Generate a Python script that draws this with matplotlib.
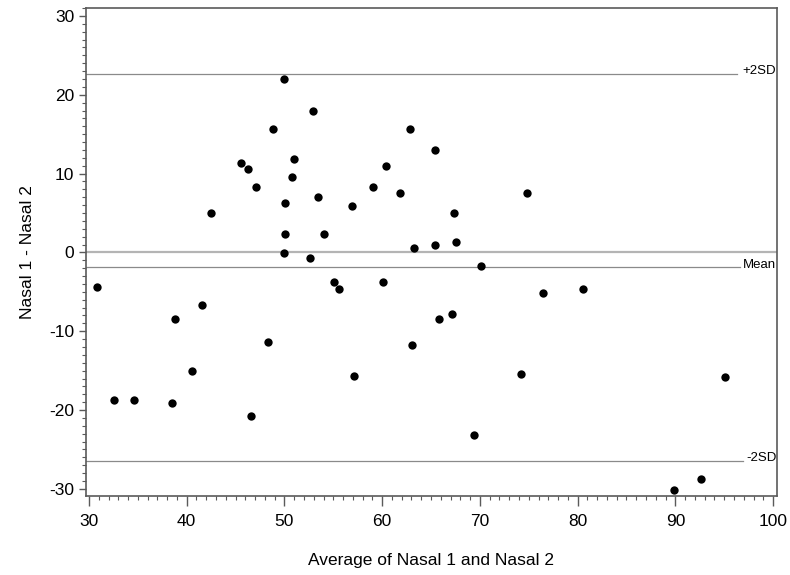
import matplotlib.pyplot as plt
from matplotlib.ticker import MultipleLocator

plt.rcParams['font.family'] = ['Liberation Sans', 'DejaVu Sans']
plt.rcParams['axes.unicode_minus'] = False

# Bland-Altman data
avg = [30.8, 32.6, 34.6, 38.5, 38.8, 40.5, 41.6, 42.5, 45.6, 46.3,
       46.6, 47.1, 48.3, 48.8, 50.0, 50.0, 50.1, 50.1, 50.8, 51.0,
       52.6, 52.95, 53.4, 54.1, 55.1, 55.6, 56.9, 57.1, 59.1, 60.1,
       60.4, 61.8, 62.8, 63.1, 63.3, 65.4, 65.4, 65.8, 67.1, 67.4,
       67.6, 69.4, 70.1, 74.2, 74.8, 76.5, 80.6, 89.9, 92.6, 95.1]
diff = [-4.4, -18.7, -18.7, -19.1, -8.4, -15.0, -6.7, 5.0, 11.3, 10.6,
        -20.8, 8.3, -11.4, 15.6, 22.0, -0.1, 6.3, 2.3, 9.6, 11.9,
        -0.7, 17.95, 7.0, 2.3, -3.7, -4.7, 5.9, -15.7, 8.3, -3.7,
        10.9, 7.6, 15.6, -11.7, 0.6, 13.0, 0.9, -8.4, -7.8, 5.0,
        1.3, -23.1, -1.7, -15.4, 7.6, -5.1, -4.7, -30.1, -28.8, -15.8]

ref_values = [22.6, -1.9, -26.4]
ref_labels = ['+2SD', 'Mean', '-2SD']
ref_ends = [0.942, 0.946, 0.951]

fig = plt.figure(figsize=(7.9, 5.75), dpi=100)
ax = fig.add_axes([0.1089, 0.1374, 0.8746, 0.8486])

ax.set_xlim(29.7, 100.4)
ax.set_ylim(-30.9, 31.0)

# zero line
ax.axhline(0, color='#b4b4b4', lw=1.6, zorder=1)

# mean and limits
for v, lab, end in zip(ref_values, ref_labels, ref_ends):
    ax.axhline(v, xmax=end, color='#8a8a8a', lw=0.9, zorder=1)
    ax.annotate(lab, xy=(0.999, v), xycoords=('axes fraction', 'data'),
                xytext=(0, 2), textcoords='offset points',
                ha='right', va='center', fontsize=9.5)

ax.scatter(avg, diff, s=36, color='black', zorder=3, linewidths=0)

ax.xaxis.set_major_locator(MultipleLocator(10))
ax.xaxis.set_minor_locator(MultipleLocator(1))
ax.yaxis.set_major_locator(MultipleLocator(10))
ax.yaxis.set_minor_locator(MultipleLocator(1))

for s in ax.spines.values():
    s.set_color('#5a5a5a')
    s.set_linewidth(1.2)

ax.tick_params(which='major', length=5, width=1, color='#5a5a5a', labelsize=12.5)
ax.tick_params(axis='x', which='major', length=7, pad=6)
ax.tick_params(which='minor', length=3, width=0.8, color='#5a5a5a')

ax.set_xlabel('Average of Nasal 1 and Nasal 2', fontsize=12.5, labelpad=17)
ax.set_ylabel('Nasal 1 - Nasal 2', fontsize=12.5, labelpad=10)

fig.savefig('out.png', dpi=100)
